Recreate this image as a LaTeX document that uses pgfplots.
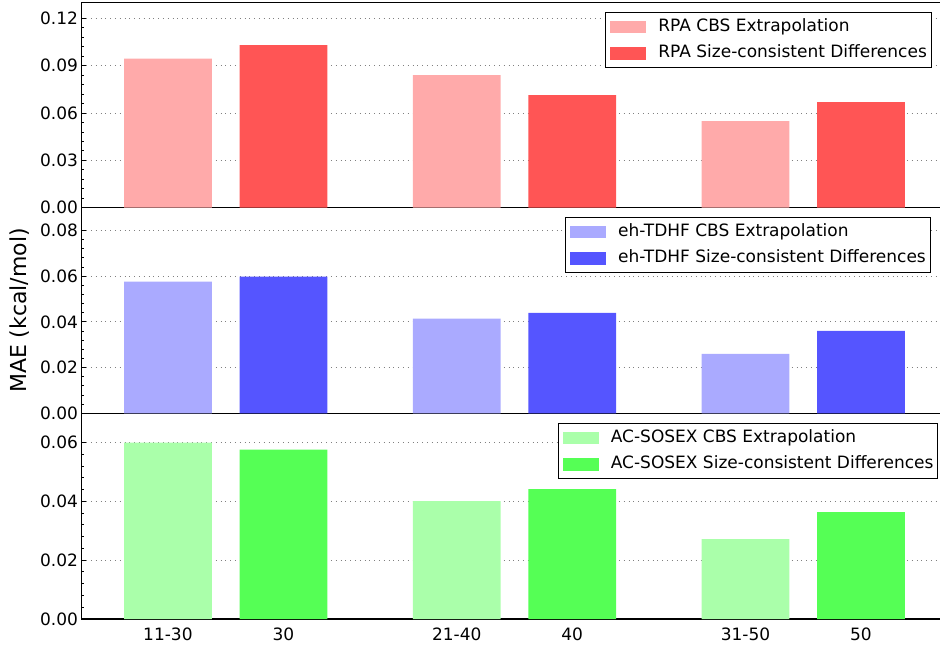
\documentclass[border=0pt]{standalone}
\usepackage{fontspec}
\setmainfont{DejaVu Sans}
\usepackage{pgfplots}
\pgfplotsset{compat=1.18}
\definecolor{lred}{RGB}{255,170,170}
\definecolor{dred}{RGB}{255,85,85}
\definecolor{lblue}{RGB}{170,170,255}
\definecolor{dblue}{RGB}{85,85,255}
\definecolor{lgreen}{RGB}{170,255,170}
\definecolor{dgreen}{RGB}{85,255,85}
\pgfplotsset{
  panel/.style={
    scale only axis, width=433.15pt,
    xmin=-0.75, xmax=6.75, ymin=0,
    axis line style={black, line width=0.6pt},
    ymajorgrids, major grid style={black!50, dotted, line width=0.5pt},
    tick align=inside, ytick pos=left, minor y tick num=4,
    major tick length=2.5pt, minor tick length=1.3pt,
    every tick/.style={black, line width=0.5pt},
    xtick={0,1,2.5,3.5,5,6}, xtick style={draw=none}, xticklabels={},
    ybar, bar shift=0pt, bar width=0.76,
    scaled y ticks=false,
    yticklabel style={font=\fontsize{8.5}{10}\selectfont, inner sep=1.5pt,
      /pgf/number format/.cd, fixed, fixed zerofill, precision=2, assume math mode=true},
    xticklabel style={font=\fontsize{8.5}{10}\selectfont, inner sep=1.5pt},
    legend cell align=left,
    legend image code/.code={\path (-1.1pt,0pt); \fill[##1] (0pt,-3.2pt) rectangle (18pt,3.2pt);},
    legend style={anchor=north east, draw=black, line width=0.5pt,
      font=\fontsize{8.5}{10}\selectfont, inner xsep=1.2pt, inner ysep=2.3pt,
      row sep=3.0pt,
      nodes={inner sep=1pt, text height=6.3pt, text depth=1.8pt},
      /tikz/column 1/.style={column sep=5pt}},
  }
}
\begin{document}
\begin{tikzpicture}
% bottom panel
\begin{axis}[panel, at={(0pt,0pt)}, anchor=south west, height=102.85pt,
  ymax=0.07, ytick={0,0.02,0.04,0.06},
  xticklabels={11-30,30,21-40,40,31-50,50},
  legend style={at={(rel axis cs:0.9893,0.954)}}]
\addplot[fill=lgreen, draw=none] coordinates {(0,0.0600) (2.5,0.0401) (5,0.0272)};
\addplot[fill=dgreen, draw=none] coordinates {(1,0.0576) (3.5,0.0442) (6,0.0364)};
\legend{AC-SOSEX CBS Extrapolation, AC-SOSEX Size-consistent Differences}
\end{axis}
% middle panel
\begin{axis}[panel, at={(0pt,102.85pt)}, anchor=south west, height=102.8pt,
  ymax=0.09, ytick={0,0.02,0.04,0.06,0.08},
  ylabel={MAE (kcal/mol)},
  every axis y label/.style={at={([xshift=-30.8pt]rel axis cs:0,0.5)}, rotate=90, anchor=center, font=\fontsize{11}{13}\selectfont},
  legend style={at={(rel axis cs:0.9805,0.956)}}]
\addplot[fill=lblue, draw=none] coordinates {(0,0.0577) (2.5,0.0414) (5,0.0260)};
\addplot[fill=dblue, draw=none] coordinates {(1,0.0598) (3.5,0.0440) (6,0.0361)};
\legend{eh-TDHF CBS Extrapolation, eh-TDHF Size-consistent Differences}
\end{axis}
% top panel
\begin{axis}[panel, at={(0pt,205.65pt)}, anchor=south west, height=102.5pt,
  ymax=0.13, ytick={0,0.03,0.06,0.09,0.12},
  legend style={at={(rel axis cs:0.9817,0.956)}}]
\addplot[fill=lred, draw=none] coordinates {(0,0.0945) (2.5,0.0841) (5,0.0549)};
\addplot[fill=dred, draw=none] coordinates {(1,0.1031) (3.5,0.0714) (6,0.0670)};
\legend{RPA CBS Extrapolation, RPA Size-consistent Differences}
\end{axis}
\pgfresetboundingbox
\useasboundingbox (-40.65pt,-12.5pt) rectangle (429.35pt,309.5pt);
\end{tikzpicture}
\end{document}
